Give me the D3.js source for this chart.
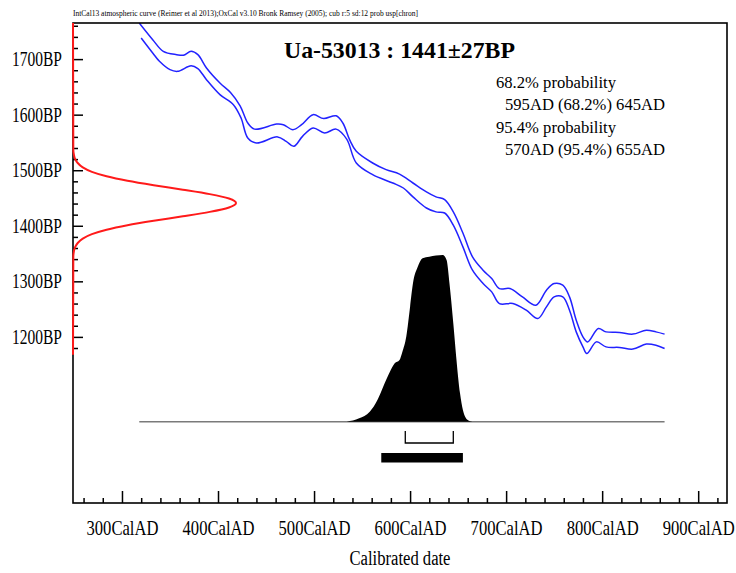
<!DOCTYPE html>
<html>
<head>
<meta charset="utf-8">
<script src="https://cdn.jsdelivr.net/npm/d3@7"></script>
<style>
  body { margin: 0; background: #fff; }
  svg { display: block; }
</style>
</head>
<body>
<svg id="chart" width="736" height="573"></svg>
<script>
// ---- Measurement ----
const sampleName = "Ua-53013";
const sampleBP = 1441;
const sampleErr = 27;

// ---- Axis ticks ----
const yearTicks = [300, 400, 500, 600, 700, 800, 900];
const yearMinorTicks = d3.range(260, 921, 20).filter(d => d % 100 !== 0);
const bpTicks = [1200, 1300, 1400, 1500, 1600, 1700];
const bpMinorTicks = d3.range(1180, 1761, 20).filter(d => d % 100 !== 0);

// ---- Calibration curve (IntCal13), upper and lower 1-sigma envelope ----
const calUpperYears = [318,332,343,357,364,372,379,388,402,413,423,431,438,461,468,478,487,499,510,523,
  530,537,544,561,575,589,603,617,627,636,645,655,665,676,685,693,704,717,731,742,
  750,759,766,773,780,785,796,804,818,832,846,856,865];
const calUpperBP = [1765,1735,1714,1708,1707,1714,1708,1684,1657,1640,1616,1585,1574,1583,1582,1573,1582,1600,1593,1598,
  1585,1555,1534,1513,1501,1493,1477,1461,1452,1447,1425,1387,1344,1320,1305,1287,1287,1272,1257,1284,
  1296,1293,1272,1230,1200,1191,1215,1209,1208,1205,1212,1209,1205];
const calLowerYears = [320,332,339,350,358,372,379,388,402,416,424,431,440,462,471,479,488,499,511,523,
  534,544,561,582,593,603,617,627,636,645,655,665,676,685,693,707,721,733,742,750,
  759,766,773,780,784,794,804,818,832,846,856,865];
const calLowerBP = [1738,1711,1696,1681,1678,1688,1683,1663,1636,1618,1594,1558,1549,1560,1552,1543,1561,1576,1567,1574,
  1556,1513,1492,1477,1468,1452,1432,1425,1423,1401,1362,1320,1296,1281,1260,1260,1248,1233,1254,1272,
  1272,1248,1209,1182,1170,1191,1182,1181,1178,1187,1185,1179];

// ---- Radiocarbon likelihood (relative), by BP ----
const likeBP = [1765,1537,1529,1521,1513,1505,1497,1489,1481,1473,1465,1457,1449,1441,
  1433,1425,1417,1409,1401,1393,1385,1377,1369,1361,1353,1345,1168];
const likeDensity = [0,0.002,0.005,0.012,0.029,0.060,0.116,0.206,0.334,0.495,0.674,0.839,0.957,1,
  0.957,0.839,0.674,0.495,0.334,0.206,0.116,0.060,0.029,0.012,0.005,0.002,0];

// ---- Calibrated probability (relative), by calendar year ----
const postYears = [534,547,558,566,572,579,584,589,592,596,600,603,608,613,620,634,638,641,645,648,652,655,660,665];
const postProb = [0,0.02,0.06,0.13,0.21,0.30,0.35,0.37,0.42,0.51,0.69,0.83,0.93,0.98,0.99,1.0,0.97,0.83,0.59,0.39,0.17,0.07,0.01,0];
const postSpan = [318, 865];

// ---- Ranges ----
const range68 = [595, 645];
const range95 = [570, 655];
const rangeText = [
  "68.2% probability",
  "595AD (68.2%) 645AD",
  "95.4% probability",
  "570AD (95.4%) 655AD"
];
const headerText = "IntCal13 atmospheric curve (Reimer et al 2013);OxCal v3.10 Bronk Ramsey (2005); cub r:5 sd:12 prob usp[chron]";

// ---- Layout ----
const serif = "'Liberation Serif','Times New Roman',serif";
const plot = { left: 73, right: 727, top: 23, bottom: 503 };

const svg = d3.select("#chart");

const x = d3.scaleLinear().domain([249, 930]).range([plot.left, plot.right]);
const y = d3.scaleLinear().domain([901, 1765]).range([plot.bottom, plot.top]);
const likeX = d3.scaleLinear().domain([0, 1]).range([plot.left, 236]);
const postY = d3.scaleLinear().domain([0, 1]).range([421.7, 255]);

svg.append("defs").append("clipPath").attr("id", "plotClip")
  .append("rect")
  .attr("x", plot.left).attr("y", plot.top)
  .attr("width", plot.right - plot.left).attr("height", plot.bottom - plot.top);

// Header line
svg.append("text")
  .attr("x", 73).attr("y", 16)
  .attr("font-family", serif).attr("font-size", 9)
  .attr("textLength", 345).attr("lengthAdjust", "spacingAndGlyphs")
  .text(headerText);

// Calibration curve envelope
const calLine = d3.line().curve(d3.curveCatmullRom.alpha(0.5));
const gCal = svg.append("g").attr("clip-path", "url(#plotClip)");
[[calUpperYears, calUpperBP], [calLowerYears, calLowerBP]].forEach(([yrs, bps]) => {
  gCal.append("path")
    .attr("d", calLine(yrs.map((d, i) => [x(d), y(bps[i])])))
    .attr("fill", "none")
    .attr("stroke", "#2222ff")
    .attr("stroke-width", 1.5);
});

// Calibrated probability distribution
svg.append("path")
  .attr("d", d3.line()(postSpan.map(d => [x(d), postY(0)])))
  .attr("stroke", "#7a7a7a").attr("stroke-width", 1.5).attr("fill", "none");

svg.append("path")
  .attr("d", d3.area()
    .curve(d3.curveMonotoneX)
    .x((d, i) => x(postYears[i]))
    .y0(postY(0))
    .y1((d, i) => postY(postProb[i]))(postYears))
  .attr("fill", "#000");

// 68.2% range bracket
const b68y0 = 431, b68y1 = 443;
svg.append("path")
  .attr("d", d3.line()([[x(range68[0]), b68y0], [x(range68[0]), b68y1], [x(range68[1]), b68y1], [x(range68[1]), b68y0]]))
  .attr("fill", "none").attr("stroke", "#000").attr("stroke-width", 1.3);

// 95.4% range bar
svg.append("rect")
  .attr("x", x(range95[0])).attr("y", 453)
  .attr("width", x(range95[1]) - x(range95[0])).attr("height", 9.5)
  .attr("fill", "#000");

// Frame
svg.append("rect")
  .attr("x", plot.left).attr("y", plot.top)
  .attr("width", plot.right - plot.left).attr("height", plot.bottom - plot.top)
  .attr("fill", "none").attr("stroke", "#000").attr("stroke-width", 1.6);

// Bottom axis
const gxMinor = svg.append("g").attr("transform", `translate(0,${plot.bottom})`)
  .call(d3.axisBottom(x).tickValues(yearMinorTicks).tickSize(-5).tickFormat(""));
const gxMajor = svg.append("g").attr("transform", `translate(0,${plot.bottom})`)
  .call(d3.axisBottom(x).tickValues(yearTicks).tickSize(-12).tickFormat(d => d + "CalAD"));

// Left axis
const gyMinor = svg.append("g").attr("transform", `translate(${plot.left},0)`)
  .call(d3.axisLeft(y).tickValues(bpMinorTicks).tickSize(-5).tickFormat(""));
const gyMajor = svg.append("g").attr("transform", `translate(${plot.left},0)`)
  .call(d3.axisLeft(y).tickValues(bpTicks).tickSize(-10).tickFormat(d => d + "BP"));

[gxMinor, gxMajor, gyMinor, gyMajor].forEach(g => {
  g.select(".domain").remove();
  g.selectAll(".tick line").attr("stroke", "#000").attr("stroke-width", 1.5);
  g.attr("font-family", serif).attr("font-size", 16);
});

gxMajor.selectAll("text")
  .attr("y", null).attr("dy", null)
  .attr("fill", "#000")
  .attr("transform", "translate(0,32) scale(1,1.3)")
  .attr("textLength", 72).attr("lengthAdjust", "spacingAndGlyphs");

gyMajor.selectAll("text")
  .attr("x", null).attr("dy", null).attr("y", 4.9)
  .attr("fill", "#000")
  .attr("transform", "translate(-11,0) scale(1,1.3)")
  .attr("textLength", 50).attr("lengthAdjust", "spacingAndGlyphs");

// Radiocarbon likelihood along the BP axis
svg.append("path")
  .attr("d", d3.line().curve(d3.curveMonotoneY)(likeBP.map((d, i) => [likeX(likeDensity[i]), y(d)])))
  .attr("fill", "none").attr("stroke", "#ff1a1a").attr("stroke-width", 2);

// Axis title
svg.append("text")
  .attr("font-family", serif).attr("font-size", 16)
  .attr("text-anchor", "middle")
  .attr("transform", "translate(400,565) scale(1,1.25)")
  .attr("textLength", 101).attr("lengthAdjust", "spacingAndGlyphs")
  .text("Calibrated date");

// Sample title
svg.append("text")
  .attr("x", 284).attr("y", 58)
  .attr("font-family", serif).attr("font-size", 24).attr("font-weight", "bold")
  .attr("textLength", 231).attr("lengthAdjust", "spacingAndGlyphs")
  .text(`${sampleName} : ${sampleBP}\u00b1${sampleErr}BP`);

// Range summary
const rangeRows = [
  { x: 496, y: 87.5, w: 120 },
  { x: 505, y: 110, w: 160 },
  { x: 496, y: 132.7, w: 120 },
  { x: 505, y: 155, w: 160 }
];
rangeText.forEach((t, i) => {
  svg.append("text")
    .attr("x", rangeRows[i].x).attr("y", rangeRows[i].y)
    .attr("font-family", serif).attr("font-size", 16)
    .attr("textLength", rangeRows[i].w).attr("lengthAdjust", "spacingAndGlyphs")
    .text(t);
});
</script>
</body>
</html>
